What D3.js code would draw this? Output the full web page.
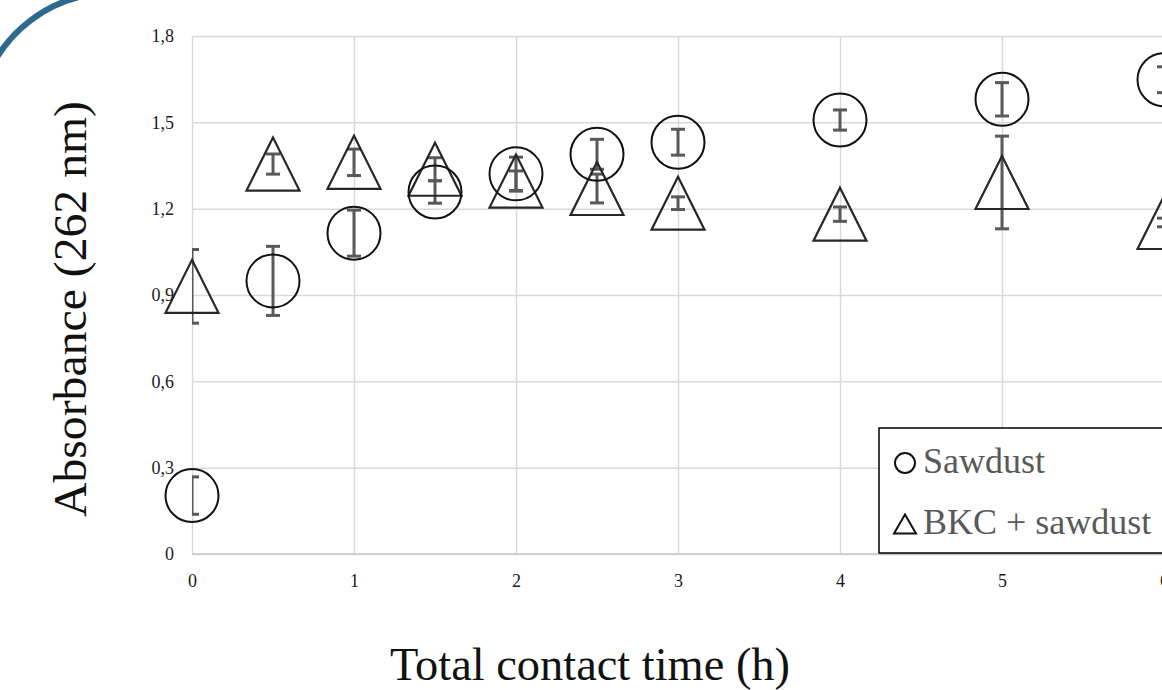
<!DOCTYPE html>
<html>
<head>
<meta charset="utf-8">
<script src="https://cdn.jsdelivr.net/npm/d3@7"></script>
<style>
  html, body { margin: 0; padding: 0; background: #fff; overflow: hidden; }
  svg { display: block; }
</style>
</head>
<body>
<svg id="chart"></svg>
<script>
// values
var times = [0, 0.5, 1, 1.5, 2, 2.5, 3, 4, 5, 6]
var sawdust = [0.203, 0.949, 1.115, 1.258, 1.321, 1.389, 1.431, 1.508, 1.580, 1.648]
var sawdustErr = [0.065, 0.12, 0.08, 0.039, 0.058, 0.052, 0.045, 0.035, 0.058, 0.045]
var bkc = [0.93, 1.355, 1.361, 1.337, 1.296, 1.27, 1.219, 1.181, 1.291, 1.152]
var bkcErr = [0.128, 0.035, 0.046, 0.04, 0.035, 0.05, 0.022, 0.025, 0.161, 0.015]
var xTicks = [0, 1, 2, 3, 4, 5, 6]
var yTicks = [0, 0.3, 0.6, 0.9, 1.2, 1.5, 1.8]
var yTickLabels = ["0", "0,3", "0,6", "0,9", "1,2", "1,5", "1,8"]
var seriesNames = ["Sawdust", "BKC + sawdust"]

function render() {
  var width = 1162, height = 690
  var margin = {top: 36, right: -2, bottom: 136, left: 192}
  var serif = "'Liberation Serif', 'Times New Roman', serif"

  var svg = d3.select("#chart")
    .attr("width", width)
    .attr("height", height)
    .attr("viewBox", [0, 0, width, height])

  var x = d3.scaleLinear()
    .domain([0, 6])
    .range([margin.left, width - margin.right])

  var y = d3.scaleLinear()
    .domain([0, 1.8])
    .range([height - margin.bottom, margin.top])

  // slide decoration, top left corner
  svg.append("path")
    .attr("transform", "translate(112,128)")
    .attr("d", d3.arc()({innerRadius: 135, outerRadius: 135, startAngle: -1.2, endAngle: -0.1}))
    .attr("fill", "none")
    .attr("stroke", "#2e6a8e")
    .attr("stroke-width", 6)

  // grid
  svg.append("g")
    .attr("transform", `translate(${margin.left},0)`)
    .call(d3.axisLeft(y).tickValues(yTicks).tickSize(-(x.range()[1] - margin.left)).tickFormat(""))
    .call(g => g.select(".domain").remove())
    .call(g => g.selectAll(".tick line").attr("stroke", "#d9d9d9").attr("stroke-width", 1.5))

  svg.append("g")
    .attr("transform", `translate(0,${height - margin.bottom})`)
    .call(d3.axisBottom(x).tickValues(xTicks).tickSize(-(y.range()[0] - margin.top)).tickFormat(""))
    .call(g => g.select(".domain").remove())
    .call(g => g.selectAll(".tick line").attr("stroke", "#d9d9d9").attr("stroke-width", 1.5))

  // bottom axis line
  svg.append("line")
    .attr("x1", margin.left).attr("x2", x.range()[1])
    .attr("y1", y(0)).attr("y2", y(0))
    .attr("stroke", "#c8c8c8")
    .attr("stroke-width", 1.5)

  // tick labels
  svg.append("g")
    .attr("transform", `translate(${margin.left},0)`)
    .call(d3.axisLeft(y).tickValues(yTicks).tickSize(0).tickPadding(18)
      .tickFormat((d, i) => yTickLabels[i]))
    .call(g => g.select(".domain").remove())
    .call(g => g.selectAll("text").attr("font-family", serif).attr("font-size", 18).attr("fill", "#1a1a1a"))

  svg.append("g")
    .attr("transform", `translate(0,${height - margin.bottom})`)
    .call(d3.axisBottom(x).tickValues(xTicks).tickSize(0).tickPadding(20)
      .tickFormat(d3.format("d")))
    .call(g => g.select(".domain").remove())
    .call(g => g.selectAll("text").attr("font-family", serif).attr("font-size", 18).attr("fill", "#1a1a1a"))

  // axis titles
  svg.append("text")
    .attr("x", 590)
    .attr("y", 680)
    .attr("text-anchor", "middle")
    .attr("font-family", serif)
    .attr("font-size", 46)
    .attr("fill", "#111")
    .attr("textLength", 400)
    .attr("lengthAdjust", "spacingAndGlyphs")
    .text("Total contact time (h)")

  svg.append("text")
    .attr("transform", "translate(86,309) rotate(-90)")
    .attr("text-anchor", "middle")
    .attr("font-family", serif)
    .attr("font-size", 47)
    .attr("fill", "#111")
    .attr("textLength", 416)
    .attr("lengthAdjust", "spacingAndGlyphs")
    .text("Absorbance (262 nm)")

  // error bars, clipped to the plot area
  svg.append("clipPath").attr("id", "plotclip")
    .append("rect")
    .attr("x", margin.left).attr("y", 0)
    .attr("width", width).attr("height", height)

  var rows = times.map((t, i) => ({t: t, s: sawdust[i], se: sawdustErr[i], b: bkc[i], be: bkcErr[i]}))
  var errs = []
  rows.forEach(r => {
    errs.push({t: r.t, v: r.b, e: r.be})
    errs.push({t: r.t, v: r.s, e: r.se})
  })

  var eb = svg.append("g")
    .attr("clip-path", "url(#plotclip)")
    .attr("stroke", "#595959")
    .attr("stroke-width", 3)
    .selectAll("g")
    .data(errs)
    .join("g")
  eb.append("line")
    .attr("x1", d => x(d.t)).attr("x2", d => x(d.t))
    .attr("y1", d => y(d.v + d.e)).attr("y2", d => y(d.v - d.e))
  eb.append("line")
    .attr("x1", d => x(d.t) - 7).attr("x2", d => x(d.t) + 7)
    .attr("y1", d => y(d.v + d.e)).attr("y2", d => y(d.v + d.e))
  eb.append("line")
    .attr("x1", d => x(d.t) - 7).attr("x2", d => x(d.t) + 7)
    .attr("y1", d => y(d.v - d.e)).attr("y2", d => y(d.v - d.e))

  // markers
  var tri = (w, h) => `M0,${-h / 2}L${w / 2},${h / 2}L${-w / 2},${h / 2}Z`

  svg.append("g")
    .selectAll("path")
    .data(rows)
    .join("path")
    .attr("transform", d => `translate(${x(d.t)},${y(d.b)})`)
    .attr("d", tri(53, 53))
    .attr("fill", "none")
    .attr("stroke", "#262626")
    .attr("stroke-width", 2.2)
    .attr("stroke-linejoin", "miter")

  svg.append("g")
    .selectAll("circle")
    .data(rows)
    .join("circle")
    .attr("cx", d => x(d.t))
    .attr("cy", d => y(d.s))
    .attr("r", 26.5)
    .attr("fill", "none")
    .attr("stroke", "#111")
    .attr("stroke-width", 2)

  // legend
  var lg = svg.append("g").attr("transform", "translate(879,428)")
  lg.append("rect")
    .attr("x", 2).attr("y", 2).attr("width", 320).attr("height", 125)
    .attr("fill", "#bdbdbd")
  lg.append("rect")
    .attr("width", 320).attr("height", 125)
    .attr("fill", "#fff")
    .attr("stroke", "#000")
    .attr("stroke-width", 1.5)

  var items = lg.selectAll("g")
    .data(seriesNames)
    .join("g")
    .attr("transform", (d, i) => `translate(0,${35 + i * 61})`)
  items.filter((d, i) => i === 0).append("circle")
    .attr("cx", 26).attr("r", 10)
    .attr("fill", "none").attr("stroke", "#111").attr("stroke-width", 2)
  items.filter((d, i) => i === 1).append("path")
    .attr("transform", "translate(26,0)")
    .attr("d", tri(22, 19))
    .attr("fill", "none").attr("stroke", "#111").attr("stroke-width", 2)
  items.append("text")
    .attr("x", 44)
    .attr("y", 10)
    .attr("font-family", serif)
    .attr("font-size", 36)
    .attr("fill", "#595959")
    .text(d => d)
}

render()
</script>
</body>
</html>
